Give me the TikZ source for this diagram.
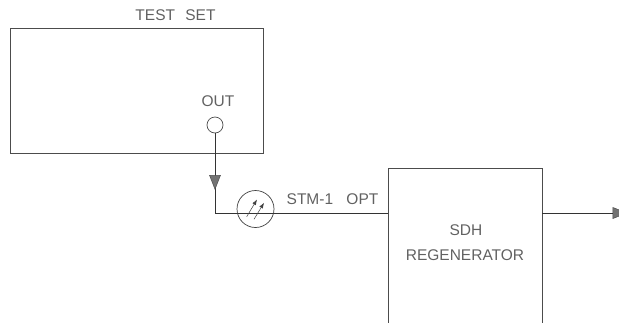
\documentclass[tikz,border=0pt]{standalone}
\usepackage{fontspec}
\setmainfont{Liberation Sans}
\usetikzlibrary{shapes.geometric, arrows.meta}

\begin{document}
\begin{tikzpicture}[
            x=1pt, y=-1pt,
            every node/.style={font=\fontsize{15.5}{17}\selectfont, text=black!62}, % Thin grey lettering
            unit/.style={draw=black!70, line width=0.8pt, rectangle, anchor=north west, inner sep=0pt},
            port/.style={draw=black!70, line width=0.7pt, circle, inner sep=0pt, minimum size=16pt},
            meter/.style={draw=black!75, line width=0.7pt, circle, inner sep=0pt, minimum size=37pt},
            tipmark/.style={draw=black!70, fill=black!55, isosceles triangle, isosceles triangle stretches,
                inner sep=0pt, minimum width=11pt, minimum height=14pt, line width=0.5pt},
            wire/.style={draw=black!80, line width=0.8pt},
            needle/.style={draw=black!75, line width=0.5pt, -{Latex[length=5.5pt,width=4pt]}}
            ]
                \useasboundingbox (0,0) rectangle (619,322);

                % Boxes, the regenerator runs off the bottom of the page
                \node[unit, minimum width=253pt, minimum height=125pt] (testset) at (10,28) {};
                \node[unit, minimum width=154pt, minimum height=175pt] (regen) at (388,168) {};

                % Labels
                \node (testlabel) at (175.5,15) {TEST\hspace{6pt} SET};
                \node (outlabel) at (218,101) {OUT};
                \node (linelabel) at (332.5,199.5) {STM-1\hspace{9pt} OPT};
                \node (sdhlabel) at (466,230) {SDH};
                \node (regenlabel) at (465,255) {REGENERATOR};

                % Ports and free line ends
                \node[port] (outport) at (215,125) {};
                \node[meter] (meter) at (255.5,209) {};
                \coordinate (regenin) at (388,213);
                \coordinate (regenout) at (542,213);

                % Lines
                \draw[wire] (outport.south) |- (regenin);
                \node[tipmark, shape border rotate=270] (tipdown) at (215,179) {};
                \node[tipmark, shape border rotate=0, anchor=lower side] (tipright) at (612.7,213) {};
                \draw[wire] (regenout) -- (tipright.lower side);

                % Meter needles
                \coordinate (needleatail) at (246.7,216.7);
                \coordinate (needleahead) at (257,199.5);
                \coordinate (needlebtail) at (254,219.3);
                \coordinate (needlebhead) at (264,202.8);
                \draw[needle] (needleatail) -- (needleahead);
                \draw[needle] (needlebtail) -- (needlebhead);

            \end{tikzpicture}
\end{document}
